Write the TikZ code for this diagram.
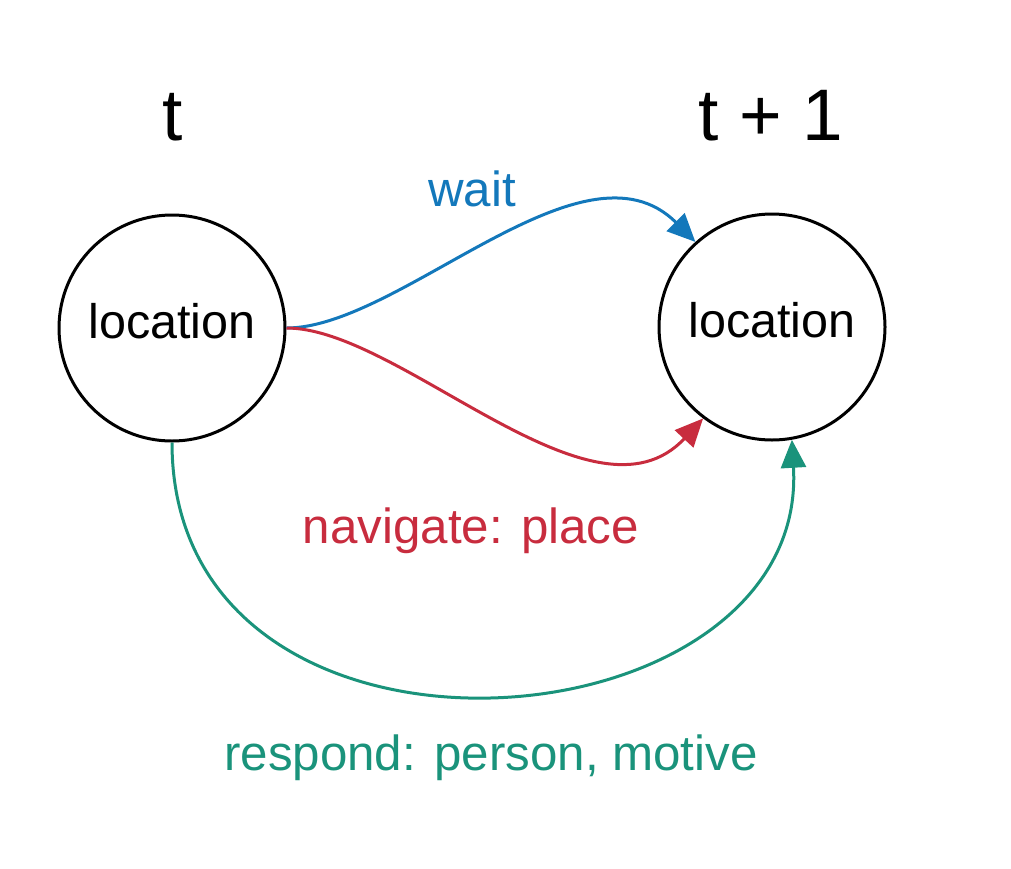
\documentclass[tikz,border=0pt]{standalone}
\usepackage{fontspec}
\setmainfont{Liberation Sans}
\usetikzlibrary{arrows.meta}
\definecolor{cblue}{RGB}{19,120,187}
\definecolor{cred}{RGB}{200,44,62}
\definecolor{cgreen}{RGB}{26,147,123}
\tikzset{
  state/.style={circle,draw=black,line width=3pt,minimum size=226pt,inner sep=0pt,text height=35pt,text depth=15pt,font=\fontsize{48.5}{58}\selectfont},
  timelbl/.style={anchor=base,inner sep=0pt,font=\fontsize{73}{86}\selectfont},
  edgelbl/.style={anchor=base,inner sep=0pt,font=\fontsize{49.3}{58}\selectfont},
  conn/.style={line width=3pt,-{Triangle[length=28pt,width=25pt]}},
}
\begin{document}
\begin{tikzpicture}[x=1pt,y=-1pt]
\useasboundingbox (0,0) rectangle (1011,868);
\node[state] (a) at (172,328) {location};
\node[state] (b) at (772,327) {location};
\node[timelbl] (ta) at (173,140) {t};
\node[timelbl] (tb) at (771,140) {t + 1};
\draw[conn,cblue] (a.east) .. controls +(114,0) and +(-112,-112) .. (b.132);
\draw[conn,cred] (a.east) .. controls +(114,0) and +(-110,118) .. (b.233);
\draw[conn,cgreen] (a.south) .. controls +(0,362) and +(18,314) .. (b.280);
\node[edgelbl,text=cblue] (lw) at (472,206) {wait};
\node[edgelbl,text=cred] (ln) at (471,543) {navigate: place};
\node[edgelbl,text=cgreen] (lr) at (491,770) {respond: person, motive};
\end{tikzpicture}
\end{document}
